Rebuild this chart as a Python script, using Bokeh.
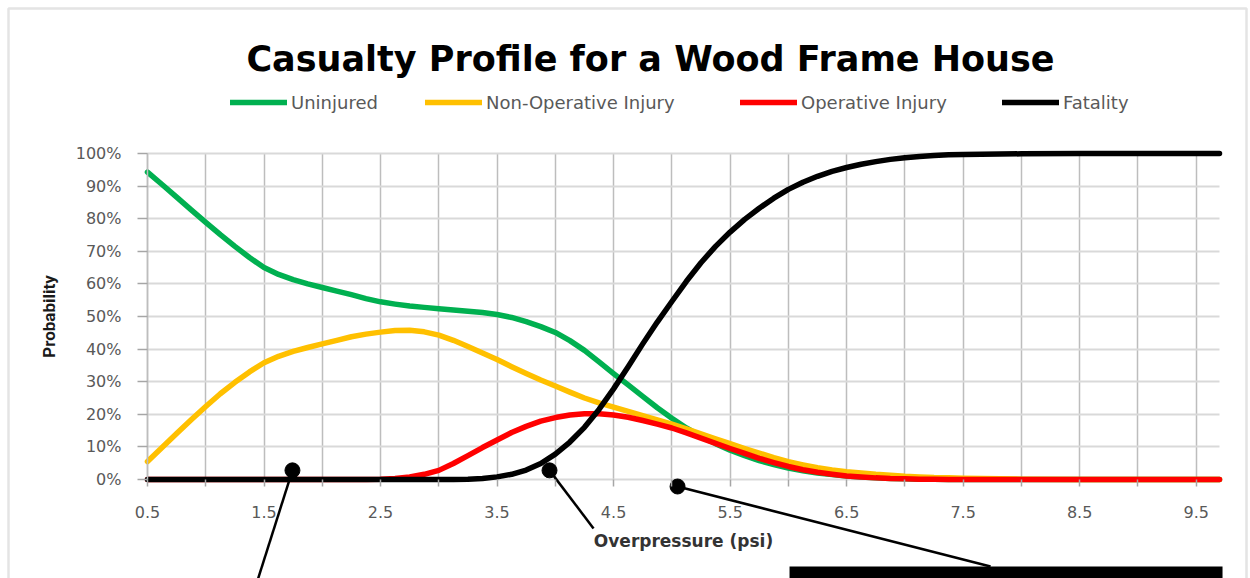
from bokeh.plotting import figure
from bokeh.models import (Range1d, FixedTicker, PrintfTickFormatter, Legend, LegendItem,
                          Label, BoxAnnotation)
from bokeh.embed import file_html
from bokeh.resources import INLINE

# ---------------- data ----------------
pressure = [0.5, 0.625, 0.75, 0.875, 1.0, 1.125, 1.25, 1.375, 1.5, 1.625, 1.75, 1.875,
            2.0, 2.125, 2.25, 2.375, 2.5, 2.625, 2.75, 2.875, 3.0, 3.125, 3.25, 3.375,
            3.5, 3.625, 3.75, 3.875, 4.0, 4.125, 4.25, 4.375, 4.5, 4.625, 4.75, 4.875,
            5.0, 5.125, 5.25, 5.375, 5.5, 5.625, 5.75, 5.875, 6.0, 6.125, 6.25, 6.375,
            6.5, 6.625, 6.75, 6.875, 7.0, 7.125, 7.25, 7.375, 7.5,
            8.0, 8.5, 9.0, 9.5, 9.7]
uninjured = [94.3, 90.5, 86.6, 82.7, 78.9, 75.1, 71.5, 68.1, 65.0, 62.9, 61.3, 60.0,
             58.9, 57.8, 56.7, 55.5, 54.5, 53.8, 53.2, 52.8, 52.4, 52.0, 51.6, 51.2,
             50.6, 49.7, 48.4, 46.9, 45.1, 42.6, 39.6, 36.1, 32.5, 29.0, 25.5, 22.0,
             18.8, 15.8, 13.2, 11.0, 9.0, 7.3, 5.8, 4.6, 3.5, 2.7, 2.0, 1.5,
             1.1, 0.8, 0.5, 0.3, 0.2, 0.1, 0.1, 0.0, 0.0,
             0.0, 0.0, 0.0, 0.0, 0.0]
non_operative = [5.5, 9.8, 14.1, 18.3, 22.4, 26.3, 29.8, 33.0, 35.8, 37.8, 39.3, 40.5,
                 41.6, 42.7, 43.8, 44.6, 45.2, 45.7, 45.8, 45.3, 44.3, 42.7, 40.8, 38.8,
                 36.8, 34.6, 32.5, 30.5, 28.7, 26.8, 25.0, 23.5, 22.2, 20.9, 19.6, 18.3,
                 17.0, 15.5, 14.0, 12.5, 11.0, 9.5, 8.1, 6.7, 5.5, 4.5, 3.6, 2.9,
                 2.4, 2.0, 1.6, 1.3, 1.0, 0.8, 0.6, 0.5, 0.4,
                 0.1, 0.0, 0.0, 0.0, 0.0]
operative = [0.0, 0.0, 0.0, 0.0, 0.0, 0.0, 0.0, 0.0, 0.0, 0.0, 0.0, 0.0,
             0.0, 0.0, 0.0, 0.0, 0.1, 0.3, 0.8, 1.6, 2.8, 4.9, 7.3, 9.8,
             12.1, 14.4, 16.3, 17.9, 19.0, 19.8, 20.2, 20.2, 19.8, 19.1, 18.1, 17.0,
             15.8, 14.3, 12.7, 11.1, 9.5, 8.0, 6.5, 5.2, 4.0, 3.0, 2.2, 1.6,
             1.1, 0.8, 0.5, 0.3, 0.2, 0.1, 0.1, 0.0, 0.0,
             0.0, 0.0, 0.0, 0.0, 0.0]
fatality = [0.0, 0.0, 0.0, 0.0, 0.0, 0.0, 0.0, 0.0, 0.0, 0.0, 0.0, 0.0,
            0.0, 0.0, 0.0, 0.0, 0.0, 0.0, 0.0, 0.0, 0.0, 0.0, 0.1, 0.3,
            0.8, 1.6, 2.9, 4.9, 7.8, 11.5, 16.0, 21.5, 27.8, 34.6, 41.6, 48.3,
            54.6, 60.8, 66.5, 71.5, 75.9, 79.8, 83.2, 86.3, 89.0, 91.2, 93.0, 94.5,
            95.7, 96.7, 97.5, 98.2, 98.7, 99.1, 99.4, 99.6, 99.7,
            99.9, 100.0, 100.0, 100.0, 100.0]

series_names = ["Uninjured", "Non-Operative Injury", "Operative Injury", "Fatality"]
series_values = [uninjured, non_operative, operative, fatality]
series_colors = ["#00B050", "#FFC000", "#FF0000", "#000000"]

x_label_ticks = [0.5, 1.5, 2.5, 3.5, 4.5, 5.5, 6.5, 7.5, 8.5, 9.5]
x_between_ticks = [1.0, 2.0, 3.0, 4.0, 5.0, 6.0, 7.0, 8.0, 9.0]
y_ticks = [0, 10, 20, 30, 40, 50, 60, 70, 80, 90, 100]
x_limits = (0.5, 9.7)
y_limits = (0, 100)

# callout markers (data coordinates) and where their leader lines go
callout_dot_x = [1.744, 3.950, 5.049]
callout_dot_y = [2.8, 2.8, -2.15]
callout_end_x = [1.444, 4.328, 7.735]
callout_end_y = [-31.0, -15.0, -26.7]
callout_box = dict(left=[6.010], right=[9.726], top=[-26.7], bottom=[-40.0])

# ---------------- layout (pixels of the 1250x578 canvas) ----------------
W, H = 1250, 578
PLOT_L, PLOT_R, PLOT_T, PLOT_B = 147, 1219, 153, 479
ux = (x_limits[1] - x_limits[0]) / (PLOT_R - PLOT_L)
uy = (y_limits[1] - y_limits[0]) / (PLOT_B - PLOT_T)


def cx(px):
    return x_limits[0] + (px - PLOT_L) * ux


def cy(py):
    return y_limits[0] + (PLOT_B - py) * uy


p = figure(width=W, height=H, title=None,
           x_range=Range1d(cx(0), cx(W)), y_range=Range1d(cy(H), cy(0)),
           output_backend="svg", toolbar_location=None,
           min_border=0, min_border_left=0, min_border_right=0,
           min_border_top=0, min_border_bottom=0)
p.outline_line_color = None
p.border_fill_color = "white"
p.background_fill_color = "white"

# outer picture border
p.add_layout(BoxAnnotation(left=cx(8), right=cx(1246), top=cy(8), bottom=cy(H + 20),
                           fill_alpha=0, line_color="#a6a6a6", line_width=2.5))

# title
p.add_layout(Label(x=cx(650), y=cy(58.5), text="Casualty Profile for a Wood Frame House",
                   text_font="DejaVu Sans", text_font_size="35px", text_font_style="bold",
                   text_color="#000000", text_align="center", text_baseline="alphabetic"))

# axes at the plot area's edges
p.xaxis.fixed_location = y_limits[0]
p.xaxis.bounds = x_limits
p.yaxis.fixed_location = x_limits[0]
p.yaxis.bounds = y_limits
p.xaxis.ticker = FixedTicker(ticks=x_label_ticks, minor_ticks=x_between_ticks)
p.yaxis.ticker = FixedTicker(ticks=y_ticks)
p.yaxis.formatter = PrintfTickFormatter(format="%d%%")

for ax in (p.xaxis[0], p.yaxis[0]):
    ax.major_label_text_font = "DejaVu Sans"
    ax.major_label_text_font_size = "16px"
    ax.major_label_text_color = "#595959"
    ax.major_tick_line_color = "#a6a6a6"
    ax.major_tick_line_width = 1.5
    ax.minor_tick_line_color = "#a6a6a6"
    ax.minor_tick_line_width = 1.5

p.xaxis.axis_line_color = None
p.xaxis.major_tick_in = 0
p.xaxis.major_tick_out = 7
p.xaxis.minor_tick_in = 0
p.xaxis.minor_tick_out = 7
p.xaxis.major_label_standoff = 19
p.xaxis.axis_label = "Overpressure (psi)"
p.xaxis.axis_label_text_font = "DejaVu Sans"
p.xaxis.axis_label_text_font_size = "17px"
p.xaxis.axis_label_text_font_style = "bold"
p.xaxis.axis_label_text_color = "#333333"
p.xaxis.axis_label_standoff = 10

p.yaxis.axis_line_color = "#bdbdbd"
p.yaxis.axis_line_width = 1.5
p.yaxis.major_tick_in = 0
p.yaxis.major_tick_out = 10
p.yaxis.minor_tick_line_color = None
p.yaxis.major_label_standoff = 16
p.yaxis.axis_label = "Probability"
p.yaxis.axis_label_text_font = "Roboto"
p.yaxis.axis_label_text_font_size = "17px"
p.yaxis.axis_label_text_font_style = "bold"
p.yaxis.axis_label_text_color = "#1a1a1a"
p.yaxis.axis_label_standoff = 14

# grids limited to the plot area
xg, yg = p.xgrid[0], p.ygrid[0]
if "cross_bounds" in xg.properties():
    xg.cross_bounds = y_limits
    yg.cross_bounds = x_limits
    xg.grid_line_color = "#bdbdbd"
    xg.grid_line_width = 1.5
    xg.minor_grid_line_color = "#bdbdbd"
    xg.minor_grid_line_width = 1.5
    yg.grid_line_color = "#d9d9d9"
    yg.grid_line_width = 2
else:
    xg.visible = False
    yg.visible = False
    vx = x_label_ticks + x_between_ticks
    p.segment(vx, [y_limits[0]] * len(vx), vx, [y_limits[1]] * len(vx),
              line_color="#bdbdbd", line_width=1.5)
    p.segment([x_limits[0]] * len(y_ticks), y_ticks, [x_limits[1]] * len(y_ticks), y_ticks,
              line_color="#d9d9d9", line_width=2)

# series
renderers = []
for name, vals, col in zip(series_names, series_values, series_colors):
    r = p.line(pressure, vals, line_color=col, line_width=5.5,
               line_cap="round", line_join="round")
    renderers.append(r)

# legend: one entry per legend box, placed like the reference
legend_px = [230, 425, 740, 1002]
for name, r, lx in zip(series_names, renderers, legend_px):
    lg = Legend(items=[LegendItem(label=name, renderers=[r])],
                location=(lx, H - 102 - 11), orientation="horizontal",
                padding=0, margin=0, spacing=0,
                glyph_width=57, glyph_height=22, label_standoff=4,
                label_text_font="DejaVu Sans", label_text_font_size="18px",
                label_text_color="#595959",
                border_line_color=None, background_fill_alpha=0)
    p.add_layout(lg)

# callouts
p.segment(callout_dot_x, callout_dot_y, callout_end_x, callout_end_y,
          line_color="black", line_width=2.5)
p.scatter(callout_dot_x, callout_dot_y, size=15, color="black")
p.quad(left=callout_box["left"], right=callout_box["right"],
       top=callout_box["top"], bottom=callout_box["bottom"],
       fill_color="black", line_color=None)

open("out.html", "w").write(file_html(p, INLINE))
